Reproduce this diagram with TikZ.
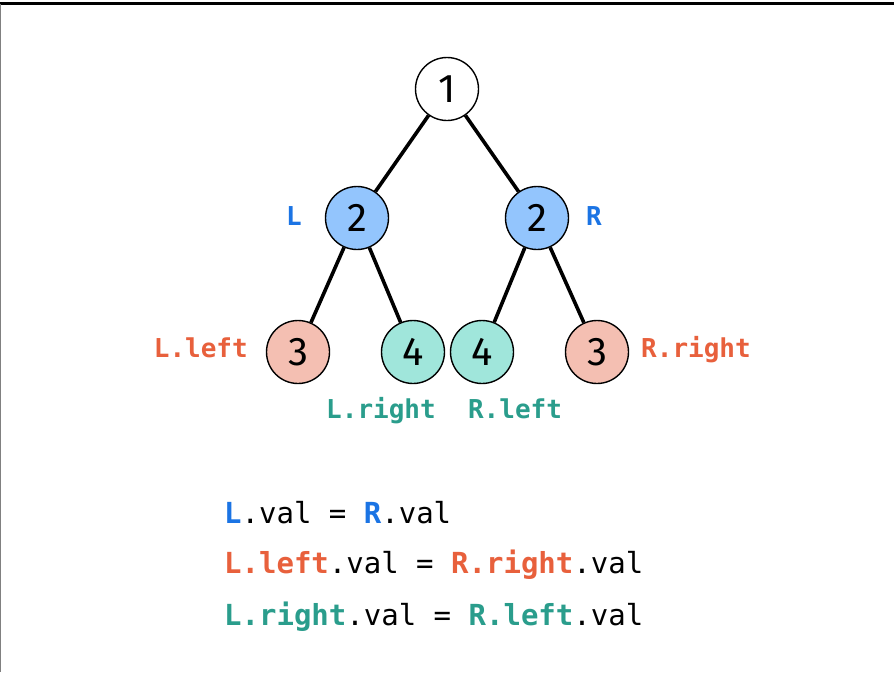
\documentclass[tikz,border=0pt]{standalone}
\usepackage{fontspec}
\setmainfont{Fira Sans}
\newfontfamily\codefont{DejaVu Sans Mono}
\definecolor{cblue}{HTML}{1B74E4}
\definecolor{corange}{HTML}{E8603C}
\definecolor{cteal}{HTML}{2A9D8C}
\definecolor{fblue}{HTML}{93C5FD}
\definecolor{fpink}{HTML}{F4BFB2}
\definecolor{fteal}{HTML}{A0E6DB}
\begin{document}
\begin{tikzpicture}[x=1pt,y=-1pt,
  tnode/.style={circle,draw=black,line width=1.4pt,minimum size=63pt,inner sep=0pt,
    font=\fontsize{40}{40}\selectfont},
  edge/.style={line width=3.6pt,black},
  lab/.style={inner sep=0pt,anchor=base,font=\codefont\bfseries\fontsize{26}{26}\selectfont},
  code/.style={inner sep=0pt,anchor=base west,font=\codefont\fontsize{29}{29}\selectfont}]
\useasboundingbox (0,0) rectangle (894,672);
\fill[white] (0,0) rectangle (894,672);
\draw[black,line width=2.4pt] (0,3.5) -- (894,3.5);
\draw[gray,line width=1pt] (0.5,3.5) -- (0.5,672);
% nodes
\node[tnode,fill=white] (n1) at (447,89) {1};
\node[tnode,fill=fblue] (L) at (357,218) {2};
\node[tnode,fill=fblue] (R) at (537,218) {2};
\node[tnode,fill=fpink] (LL) at (298,352) {3};
\node[tnode,fill=fteal] (LR) at (413,352) {4};
\node[tnode,fill=fteal] (RL) at (482,352) {4};
\node[tnode,fill=fpink] (RR) at (597,352) {3};
% edges
\draw[edge] (n1) -- (L);
\draw[edge] (n1) -- (R);
\draw[edge] (L) -- (LL);
\draw[edge] (L) -- (LR);
\draw[edge] (R) -- (RL);
\draw[edge] (R) -- (RR);
% labels
\node[lab,text=cblue] (lL) at (294,225) {L};
\node[lab,text=cblue] (lR) at (594,225) {R};
\node[lab,text=corange,anchor=base east] (lLL) at (248,357) {L.left};
\node[lab,text=corange,anchor=base west] (lRR) at (641,357) {R.right};
\node[lab,text=cteal] (lLR) at (381,418) {L.right};
\node[lab,text=cteal] (lRL) at (515,418) {R.left};
% code
\node[code] (c1) at (224,523) {\textcolor{cblue}{\bfseries L}.val = \textcolor{cblue}{\bfseries R}.val};
\node[code] (c2) at (224,573) {\textcolor{corange}{\bfseries L.left}.val = \textcolor{corange}{\bfseries R.right}.val};
\node[code] (c3) at (224,625) {\textcolor{cteal}{\bfseries L.right}.val = \textcolor{cteal}{\bfseries R.left}.val};
\end{tikzpicture}
\end{document}
